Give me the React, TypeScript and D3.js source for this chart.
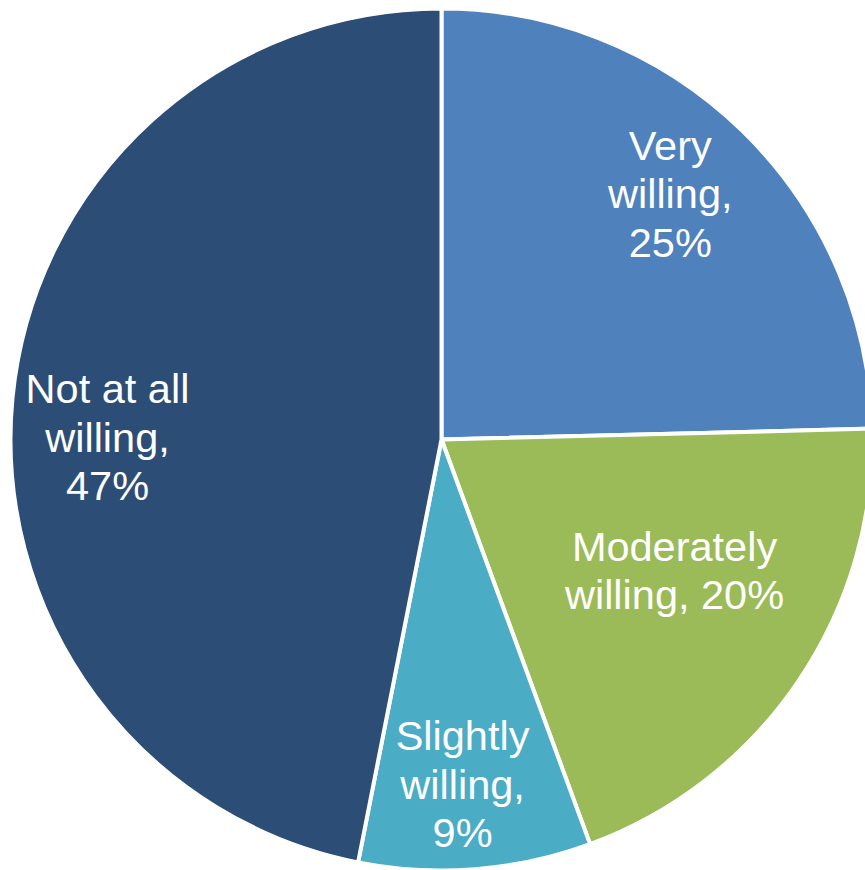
import React from "react";
import * as d3 from "d3";

const categories = ["Very willing", "Moderately willing", "Slightly willing", "Not at all willing"];
const labelLines = [["Very", "willing,"], ["Moderately", "willing,"], ["Slightly", "willing,"], ["Not at all", "willing,"]];
const values = [24.6, 19.8, 8.7, 46.9];
const colors = ["#4F81BD", "#9BBB59", "#4BACC6", "#2C4D75"];

// label placement (Excel-like best fit): radius fraction and angular shift in degrees
const labelRadius = [0.78, 0.62, 0.8, 0.775];
const labelShift = [-1.4, -4.9, 1.0, -5.1];
const lastLineJoin = [false, true, false, false];

const W = 865;
const H = 870;
const CX = 441.5;
const CY = 439.5;
const R = 431;
const FONT = 41.5;
const LINE = 48.5;

export default function App() {
  const pie = d3.pie<number>().sort(null).value((d) => d);
  const arcs = pie(values);
  const arc = d3.arc<d3.PieArcDatum<number>>().innerRadius(0).outerRadius(R);

  return (
    <svg
      width={W}
      height={H}
      style={{ position: "absolute", left: 0, top: 0, background: "#ffffff" }}
    >
      <g transform={`translate(${CX},${CY})`}>
        {arcs.map((a, i) => (
          <path key={categories[i]} d={arc(a) || ""} fill={colors[i]} stroke="#ffffff" strokeWidth={4} strokeLinejoin="miter" />
        ))}
        {arcs.map((a, i) => {
          const mid = (a.startAngle + a.endAngle) / 2 + (labelShift[i] * Math.PI) / 180;
          const rr = R * labelRadius[i];
          const x = rr * Math.sin(mid);
          const y = -rr * Math.cos(mid);
          const pct = `${Math.round(values[i])}%`;
          let lines: string[];
          if (lastLineJoin[i]) {
            lines = [labelLines[i][0], `${labelLines[i][1]} ${pct}`];
          } else {
            lines = [...labelLines[i], pct];
          }
          const n = lines.length;
          const firstBaseline = y - ((n - 1) / 2) * LINE + FONT * 0.36;
          return (
            <text
              key={`l-${i}`}
              textAnchor="middle"
              fill="#ffffff"
              fontFamily="'Liberation Sans', Arial, sans-serif"
              fontSize={FONT}
            >
              {lines.map((t, j) => (
                <tspan key={j} x={x} y={firstBaseline + j * LINE}>
                  {t}
                </tspan>
              ))}
            </text>
          );
        })}
      </g>
    </svg>
  );
}
